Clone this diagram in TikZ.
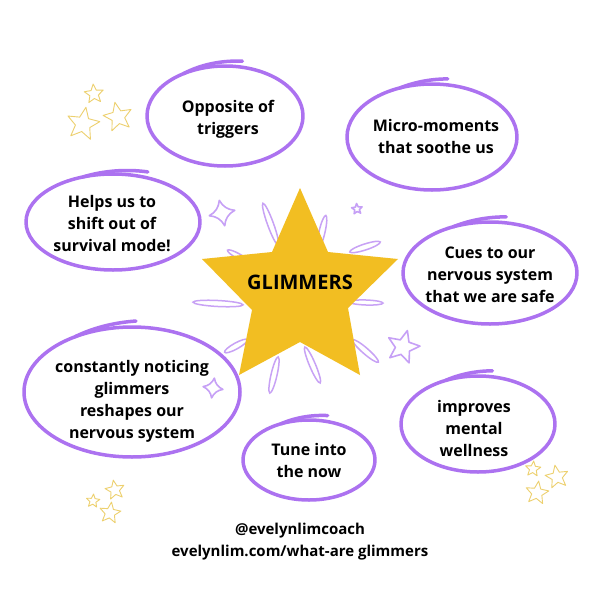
\documentclass[tikz,border=0pt]{standalone}
\usepackage{fontspec}
\setmainfont{Open Sans}
\definecolor{ovalc}{HTML}{AC72F0}
\definecolor{rayc}{HTML}{C8A2F5}
\definecolor{pstarc}{HTML}{C6A0F6}
\definecolor{gstarc}{HTML}{EDD06E}
\definecolor{starc}{HTML}{F2BE22}
\tikzset{
  fivestar/.pic={\draw[pic actions] (-90:1) -- (-54:.45) -- (-18:1) -- (18:.45) -- (54:1) -- (90:.45) -- (126:1) -- (162:.45) -- (198:1) -- (234:.45) -- cycle;},
  fourstar/.pic={\draw[pic actions] (-90:1) to[bend right=28] (0:1) to[bend right=28] (90:1) to[bend right=28] (180:1) to[bend right=28] cycle;},
}
% centre x, centre y, rx, ry, tail start angle, tail end angle
\newcommand\handoval[6]{%
  \draw[ovalline] (#1,#2) ellipse [x radius=#3, y radius=#4];
  \draw[ovalline] plot[domain=#5:#6, samples=30, smooth] ({#1+(#3+6*(\x-#5)/(#6-#5))*cos(\x)}, {#2+(#4+6*(\x-#5)/(#6-#5))*sin(\x)});}
\begin{document}
\begin{tikzpicture}[x=1pt,y=-1pt,
  ovalline/.style={draw=ovalc, line width=3.5pt, line cap=round, line join=round},
  raystyle/.style={draw=rayc, line width=1.5pt},
  pstar/.style={draw=pstarc, line width=1.6pt, line join=round},
  gstar/.style={draw=gstarc, line width=0.9pt, line join=round},
  txt/.style={align=center, font=\fontsize{16}{22}\selectfont\bfseries, text=black, inner sep=0pt},
  foot/.style={align=center, font=\fontsize{15}{20}\selectfont\bfseries, text=black, inner sep=0pt}]
\fill[white] (0,0) rectangle (600,600);
\useasboundingbox (0,0) rectangle (600,600);

% rays behind the star
\draw[raystyle] (270.5,224) ellipse [x radius=22, y radius=3, rotate=-70];
\draw[raystyle] (322,232) ellipse [x radius=17, y radius=3, rotate=77];
\draw[raystyle] (365,247) ellipse [x radius=16, y radius=3, rotate=18];
\draw[raystyle] (218,303.5) ellipse [x radius=25, y radius=3, rotate=-3];
\draw[raystyle] (366,302.5) ellipse [x radius=17, y radius=2.5, rotate=-2];
\draw[raystyle] (236,346) ellipse [x radius=13, y radius=3, rotate=29];
\draw[raystyle] (274,375) ellipse [x radius=18.5, y radius=3, rotate=77];
\draw[raystyle] (312.5,365) ellipse [x radius=19.5, y radius=3, rotate=-67];
\draw[raystyle] (365.5,351) ellipse [x radius=17, y radius=3, rotate=-41];
\draw[raystyle] (238,256) ellipse [x radius=12, y radius=2.5, rotate=-29];

% main star
\fill[starc] (300,188) -- (328,252) -- (398,259) -- (348,308) -- (360,375) -- (300,342) -- (239,375) -- (252,310) -- (202,259) -- (272,252) -- cycle;
\node[font=\fontsize{20}{24}\selectfont\bfseries, inner sep=0pt] (glim) at (300,282) {GLIMMERS};

% purple outline stars
\pic[pstar, scale=13, rotate=12] at (222,213) {fourstar};
\pic[pstar, scale=10, rotate=-8] at (213,388) {fourstar};
\pic[pstar, scale=17, rotate=-15] at (403,347) {fivestar};
\pic[pstar, scale=5.5, rotate=5] at (357,209) {fivestar};

% gold outline stars
\pic[gstar, scale=10, rotate=5] at (94,94) {fivestar};
\pic[gstar, scale=17, rotate=-10] at (83,124) {fivestar};
\pic[gstar, scale=15, rotate=12] at (118,117) {fivestar};
\pic[gstar, scale=7, rotate=-5] at (93,501) {fivestar};
\pic[gstar, scale=10, rotate=10] at (115,490) {fivestar};
\pic[gstar, scale=11, rotate=-8] at (110,513) {fivestar};
\pic[gstar, scale=8, rotate=-5] at (533,469) {fivestar};
\pic[gstar, scale=12, rotate=10] at (557,477) {fivestar};
\pic[gstar, scale=12, rotate=-8] at (537,493) {fivestar};

% hand-drawn ovals
\handoval{225}{116}{78}{50}{238}{282}
\handoval{432}{137}{85}{53}{248}{280}
\handoval{113}{222}{87}{48}{250}{292}
\handoval{490}{273}{87}{51}{245}{280}
\handoval{132}{392}{108}{65}{238}{272}
\handoval{478}{424}{77}{48}{245}{280}
\handoval{309}{460}{66}{40}{245}{285}

% texts
\node[txt] (opp) at (228,119) {Opposite of\\triggers};
\node[txt] (micro) at (436,136) {Micro-moments\\that soothe us};
\node[txt] (helps) at (112,224) {Helps us to\\shift out of\\survival mode!};
\node[txt] (cues) at (490,275) {Cues to our\\nervous system\\that we are safe};
\node[txt] (const) at (132,401) {constantly noticing\\glimmers\\reshapes our\\nervous system};
\node[txt] (impr) at (474,428) {improves\\mental\\wellness};
\node[txt] (tune) at (309,460) {Tune into\\the now};

\node[foot] (handle) at (300,531) {@evelynlimcoach};
\node[foot] (url) at (300,553) {evelynlim.com/what-are glimmers};
\end{tikzpicture}
\end{document}
